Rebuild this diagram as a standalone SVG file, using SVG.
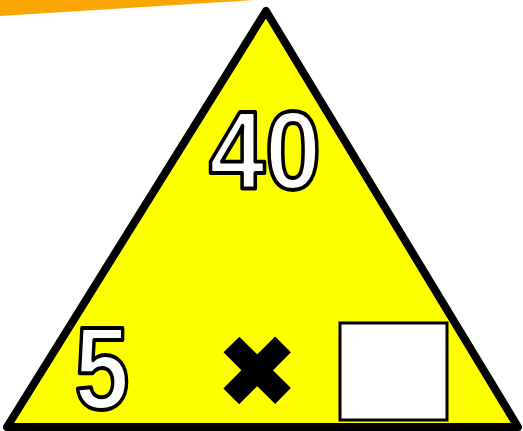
<svg xmlns="http://www.w3.org/2000/svg" width="523" height="431" viewBox="0 0 523 431">
<style>
.num{font-family:"Liberation Sans",Arial,sans-serif;font-weight:bold;fill:#fff;stroke:#000;stroke-width:4;stroke-linejoin:round;text-anchor:middle}
</style>
<rect width="523" height="431" fill="#fff"/>
<polygon points="0,0 255,0 0,16" fill="#F9A602"/>
<g id="triangle">
<path d="M266,11 L7,427 L518,427 Z" fill="#FFFF00" stroke="#000" stroke-width="8" stroke-linejoin="round"/>
</g>
<g id="top-number"><text class="num" x="265" y="189" font-size="112" transform="translate(265 0) scale(0.9 1) translate(-265 0)">40</text></g>
<g id="left-number"><text class="num" x="102" y="409" font-size="116" transform="translate(102 0) scale(0.85 1) translate(-102 0)">5</text></g>
<g id="times"><text x="257" y="405" font-family="Liberation Sans,Arial,sans-serif" font-weight="bold" font-size="104" text-anchor="middle" fill="#000" stroke="#000" stroke-width="11">×</text></g>
<g id="answer-box"><rect x="340" y="323" width="107" height="97" fill="#fff" stroke="#000" stroke-width="3"/></g>
</svg>
